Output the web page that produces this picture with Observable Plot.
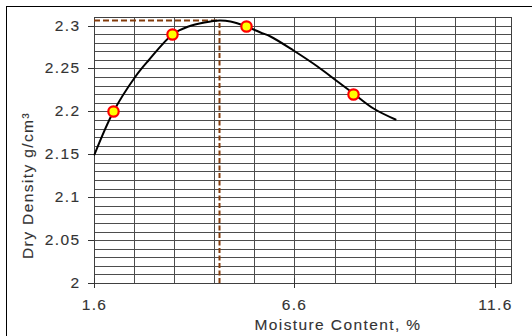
<!DOCTYPE html>
<html>
<head>
<meta charset="utf-8">
<script src="https://cdn.jsdelivr.net/npm/d3@7"></script>
<script src="https://cdn.jsdelivr.net/npm/@observablehq/plot@0.6"></script>
<style>
  html, body { margin: 0; padding: 0; background: #fff; overflow: hidden; }
  #chart { position: relative; width: 532px; height: 336px; overflow: hidden; }
  #chart svg { display: block; }
  #chart svg text { letter-spacing: 1.4px; stroke: #333; stroke-width: 0.12px; }
  #border {
    position: absolute; left: 6px; top: 6px; width: 600px; height: 400px;
    border: 1px solid #000; box-sizing: border-box; pointer-events: none;
  }
</style>
</head>
<body>
<div id="chart"><div id="border"></div></div>
<script>
// Proctor compaction test: measured points
const moisture = [2.08, 3.55, 5.38, 8.07];
const density = [2.20, 2.29, 2.30, 2.22];

// Compaction curve drawn through the test points
const curveMoisture = [1.6, 2.08, 2.62, 2.95, 3.55, 3.95, 4.35, 4.72, 5.0, 5.38, 5.74, 5.99, 6.57, 7.15, 7.65, 8.07, 8.57, 9.11];
const curveDensity  = [2.15, 2.20, 2.241, 2.26, 2.29, 2.299, 2.3045, 2.306, 2.3048, 2.300, 2.293, 2.288, 2.272, 2.253, 2.235, 2.221, 2.204, 2.191];

// Optimum moisture content and maximum dry density
const optMoisture = 4.72;
const maxDensity = 2.306;

// Axis ticks and labels
const xTicks = [1.6, 6.6, 11.6];
const yTicks = [2, 2.05, 2.1, 2.15, 2.2, 2.25, 2.3];
const xDomain = [1.6, 12];
const yDomain = [2, 2.31];
const xLabel = "Moisture Content, %";
const yLabel = "Dry Density g/cm³";

const points = moisture.map((m, i) => ({m, d: density[i]}));
const curve = curveMoisture.map((m, i) => ({m, d: curveDensity[i]}));

// Grid: every 1 % of moisture, every 0.01 g/cm³ of density
const xGrid = d3.range(0, 11).map(i => xDomain[0] + i);
const yGrid = d3.range(0, 32).map(i => +(yDomain[0] + i / 100).toFixed(2));

const gridColor = "#4d4d4d";
const inkColor = "#333";
const brown = "#843c0c";

const chart = Plot.plot({
  width: 532,
  height: 336,
  marginLeft: 94,
  marginRight: 21,
  marginTop: 17,
  marginBottom: 53,
  style: {
    fontFamily: "'Liberation Sans', Arial, sans-serif",
    fontSize: "15.5px",
    color: inkColor,
    background: "transparent"
  },
  x: {domain: xDomain, round: true},
  y: {domain: yDomain, round: true},
  marks: [
    Plot.ruleX(xGrid, {stroke: gridColor, strokeWidth: 1}),
    Plot.ruleY(yGrid, {stroke: gridColor, strokeWidth: 1}),
    Plot.frame({stroke: "#404040", strokeWidth: 1}),
    Plot.axisY({ticks: yTicks, tickFormat: d3.format("~g"), tickSize: 6, tickPadding: 8, label: null, stroke: inkColor, fill: inkColor}),
    Plot.axisX({ticks: xTicks, tickFormat: d3.format("~g"), tickSize: 5, tickPadding: 10, label: null, stroke: inkColor, fill: inkColor}),
    // x ticks cross the axis line
    Plot.ruleX(xTicks, {y1: yDomain[0], y2: yDomain[0], insetTop: -5, insetBottom: 0, stroke: inkColor}),
    // dashed guides to the optimum
    Plot.ruleY([maxDensity], {x1: xDomain[0], x2: optMoisture, stroke: brown, strokeWidth: 2, strokeDasharray: "6,3"}),
    Plot.ruleX([optMoisture], {y1: yDomain[0], y2: maxDensity, stroke: brown, strokeWidth: 2, strokeDasharray: "5,2.5"}),
    Plot.line(curve, {x: "m", y: "d", curve: "catmull-rom", stroke: "#000", strokeWidth: 2}),
    Plot.dot(points, {x: "m", y: "d", r: 5.2, fill: "#ffff00", stroke: "#ff0000", strokeWidth: 2.2}),
    Plot.text([xLabel], {text: d => d, frameAnchor: "bottom", textAnchor: "middle", dx: 35, dy: 42, lineAnchor: "middle", fill: inkColor}),
    Plot.text([yLabel], {text: d => d, frameAnchor: "left", textAnchor: "middle", rotate: -90, dx: -66, dy: 35, lineAnchor: "middle", fill: inkColor})
  ]
});

document.getElementById("chart").prepend(chart);
</script>
</body>
</html>
